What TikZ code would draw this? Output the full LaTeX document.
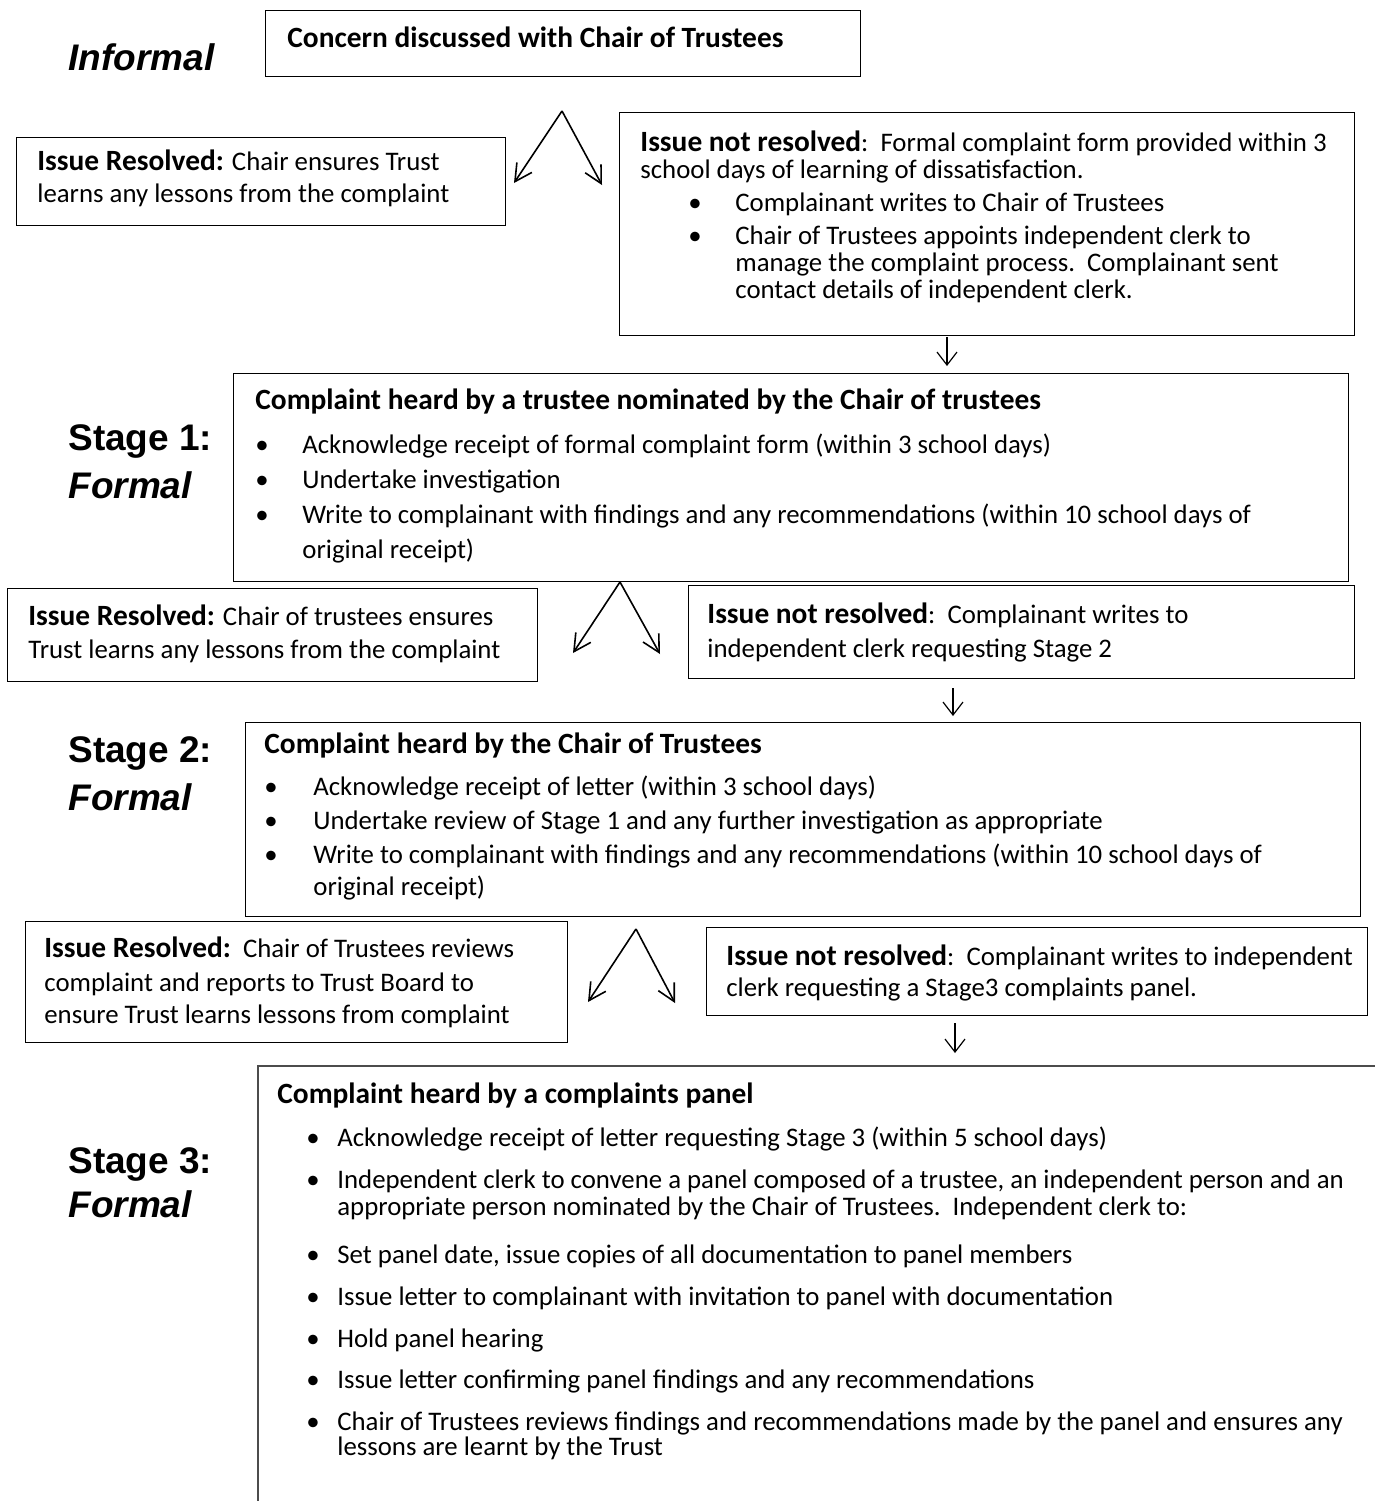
\documentclass[tikz,border=0pt]{standalone}
\usepackage{fontspec}
\setmainfont{Carlito}
\newfontfamily\arialfont{Liberation Sans}
\usetikzlibrary{arrows.meta}
\tikzset{
  box/.style={draw=black, line width=0.7pt, rectangle, inner sep=0pt, anchor=north west},
  openbox/.style={draw=black!70, line width=1pt, rectangle, inner sep=0pt, anchor=north west},
  txt/.style={font=\fontsize{13.4}{13.5}\selectfont\lineskiplimit-20pt\relax, align=left, inner sep=0pt, anchor=north west},
  stagelab/.style={font=\arialfont\bfseries\fontsize{18.5}{24}\selectfont, align=left, inner sep=0pt, anchor=base west},
  vee/.style={line width=0.8pt, -{Straight Barb[length=8.5pt,width=9pt]}},
  downarr/.style={line width=0.6pt, -{Straight Barb[length=6.5pt,width=10pt]}}
}
% first line strut, bold heading, bullet (offset to dot, offset to text)
\newcommand{\fl}{\rule{0pt}{14pt}}
\newcommand{\hd}[1]{{\fontsize{14.7}{13.5}\selectfont\bfseries #1}}
\newcommand{\blt}[2]{\makebox[#2][l]{\hspace*{#1}\textbullet}}
\begin{document}
\begin{tikzpicture}[x=0.5pt,y=-0.5pt]
\useasboundingbox (0,0) rectangle (1375,1501);
\clip (0,0) rectangle (1375,1501);

% stage labels (placed at the baseline of the last line)
\node[stagelab] (informal) at (68,70) {\textit{Informal}};
\node[stagelab] (lab1) at (68,498) {Stage 1:\\\textit{Formal}};
\node[stagelab] (lab2) at (68,810) {Stage 2:\\\textit{Formal}};
\node[stagelab] (lab3) at (68,1217) {Stage 3:\\[-2pt]\textit{Formal}};

% frames
\node[box, minimum width=297.5pt, minimum height=33pt] (b0) at (265,10) {};
\node[box, minimum width=244.5pt, minimum height=44pt] (l1) at (16,137) {};
\node[box, minimum width=367.5pt, minimum height=111.5pt] (r1) at (619,112) {};
\node[box, minimum width=557.5pt, minimum height=104pt] (s1) at (233,373) {};
\node[box, minimum width=265pt, minimum height=46.5pt] (l2) at (7,588) {};
\node[box, minimum width=333pt, minimum height=46.5pt] (r2) at (688,585) {};
\node[box, minimum width=557.5pt, minimum height=97pt] (s2) at (245,722) {};
\node[box, minimum width=271pt, minimum height=60.5pt] (l3) at (25,921) {};
\node[box, minimum width=330.5pt, minimum height=44pt] (r3) at (706,927) {};
\node[openbox, minimum width=580pt, minimum height=240pt] (s3) at (257,1065) {};

% informal stage
\node[txt] (t0) at (287,19) {\fl\hd{Concern discussed with Chair of Trustees}};
\node[txt] (tl1) at (37,142) {\fl\hd{Issue Resolved:} Chair ensures Trust\\[2.5pt]
  learns any lessons from the complaint};
\node[txt] (tr1) at (640,123) {\fl\hd{Issue not resolved}:\ \ Formal complaint form provided within 3\\
  school days of learning of dissatisfaction.\\[3pt]
  \blt{24pt}{47.5pt}Complainant writes to Chair of Trustees\\[3pt]
  \blt{24pt}{47.5pt}Chair of Trustees appoints independent clerk to\\
  \hspace*{47.5pt}manage the complaint process.\ \ Complainant sent\\
  \hspace*{47.5pt}contact details of independent clerk.};

% stage 1
\node[txt] (ts1) at (255,381) {\fl\hd{Complaint heard by a trustee nominated by the Chair of trustees}\\[8.5pt]
  \blt{0pt}{23.5pt}Acknowledge receipt of formal complaint form (within 3 school days)\\[4pt]
  \blt{0pt}{23.5pt}Undertake investigation\\[4pt]
  \blt{0pt}{23.5pt}Write to complainant with findings and any recommendations (within 10 school days of\\[4pt]
  \hspace*{23.5pt}original receipt)};
\node[txt] (tl2) at (28,597) {\fl\hd{Issue Resolved:} Chair of trustees ensures\\[3pt]
  Trust learns any lessons from the complaint};
\node[txt] (tr2) at (707,595) {\fl\hd{Issue not resolved}:\ \ Complainant writes to\\[3.5pt]
  independent clerk requesting Stage 2};

% stage 2
\node[txt] (ts2) at (264,725) {\fl\hd{Complaint heard by the Chair of Trustees}\\[7.5pt]
  \blt{0pt}{24.5pt}Acknowledge receipt of letter (within 3 school days)\\[3.5pt]
  \blt{0pt}{24.5pt}Undertake review of Stage 1 and any further investigation as appropriate\\[3.5pt]
  \blt{0pt}{24.5pt}Write to complainant with findings and any recommendations (within 10 school days of\\[2.5pt]
  \hspace*{24.5pt}original receipt)};
\node[txt] (tl3) at (44,929) {\fl\hd{Issue Resolved:}\ \ Chair of Trustees reviews\\[3.5pt]
  complaint and reports to Trust Board to\\[2.5pt]
  ensure Trust learns lessons from complaint};
\node[txt] (tr3) at (726,937) {\fl\hd{Issue not resolved}:\ \ Complainant writes to independent\\[2pt]
  clerk requesting a Stage3 complaints panel.};

% stage 3
\node[txt] (ts3) at (277,1075) {\fl\hd{Complaint heard by a complaints panel}\\[8pt]
  \blt{14.5pt}{30pt}Acknowledge receipt of letter requesting Stage 3 (within 5 school days)\\[7.5pt]
  \blt{14.5pt}{30pt}Independent clerk to convene a panel composed of a trustee, an independent person and an\\
  \hspace*{30pt}appropriate person nominated by the Chair of Trustees.\ \ Independent clerk to:\\[10.5pt]
  \blt{14.5pt}{30pt}Set panel date, issue copies of all documentation to panel members\\[7.5pt]
  \blt{14.5pt}{30pt}Issue letter to complainant with invitation to panel with documentation\\[7.5pt]
  \blt{14.5pt}{30pt}Hold panel hearing\\[7pt]
  \blt{14.5pt}{30pt}Issue letter confirming panel findings and any recommendations\\[7.5pt]
  \blt{14.5pt}{30pt}Chair of Trustees reviews findings and recommendations made by the panel and ensures any\\[-1pt]
  \hspace*{30pt}lessons are learnt by the Trust};

% arrows
\coordinate (v1) at (562,111);
\coordinate (v1l) at (514,183);
\coordinate (v1r) at (602,185);
\draw[vee] (v1) -- (v1l);
\draw[vee] (v1) -- (v1r);
\coordinate (d1a) at (947,337);
\coordinate (d1b) at (947,366);
\draw[downarr] (d1a) -- (d1b);

\coordinate (v2) at (620,582);
\coordinate (v2l) at (573,653);
\coordinate (v2r) at (660,654);
\draw[vee] (v2) -- (v2l);
\draw[vee] (v2) -- (v2r);
\coordinate (d2a) at (953,688);
\coordinate (d2b) at (953,716);
\draw[downarr] (d2a) -- (d2b);

\coordinate (v3) at (636,929);
\coordinate (v3l) at (588,1002);
\coordinate (v3r) at (675,1003);
\draw[vee] (v3) -- (v3l);
\draw[vee] (v3) -- (v3r);
\coordinate (d3a) at (955,1023);
\coordinate (d3b) at (955,1053);
\draw[downarr] (d3a) -- (d3b);
\end{tikzpicture}
\end{document}
